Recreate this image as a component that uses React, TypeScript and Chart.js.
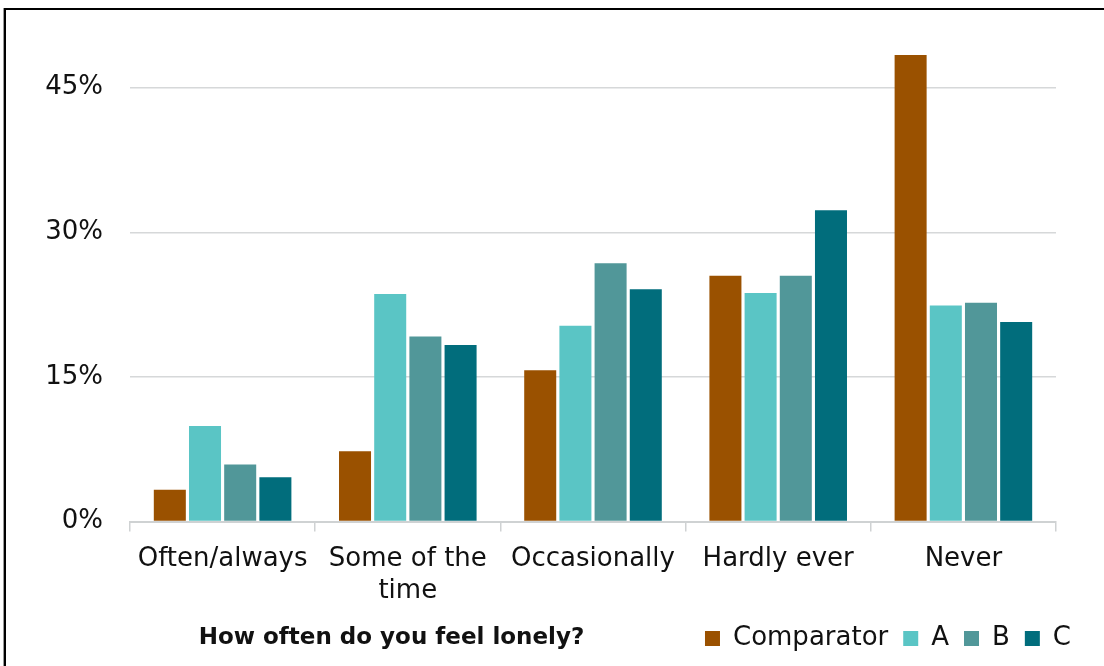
import { useEffect, useRef } from "react";
import { Chart, registerables } from "chart.js";

Chart.register(...registerables);

// Categories (the second one wraps onto two lines)
const categories: (string | string[])[] = [
  "Often/always",
  ["Some of the", "time"],
  "Occasionally",
  "Hardly ever",
  "Never",
];

// Percent of respondents per answer
const comparator = [3.3, 7.3, 15.7, 25.5, 48.4];
const seriesA = [9.9, 23.6, 20.3, 23.7, 22.4];
const seriesB = [5.9, 19.2, 26.8, 25.5, 22.7];
const seriesC = [4.6, 18.3, 24.1, 32.3, 20.7];

const seriesNames = ["Comparator", "A", "B", "C"];
const seriesColors = ["#9a5100", "#5ac5c5", "#519799", "#016d7c"];

const yTicks = [0, 15, 30, 45];
const yMax = 50;
const axisTitle = "How often do you feel lonely?";

const FONT = "'DejaVu Sans', sans-serif";
const FONT_SIZE = 26;
const LEGEND_PAD = 15;
const TEXT = "#111111";

// Draws the bold question text on the same row as the legend
const axisTitleRow = {
  id: "axisTitleRow",
  afterDraw(chart: any) {
    const legend = chart.legend;
    if (!legend) return;
    const ctx = chart.ctx as CanvasRenderingContext2D;
    const y = legend.top + LEGEND_PAD + FONT_SIZE / 2;
    const x = chart.chartArea.left + 261.5;
    ctx.save();
    ctx.font = `bold 23px ${FONT}`;
    ctx.fillStyle = TEXT;
    ctx.textAlign = "center";
    ctx.textBaseline = "middle";
    ctx.fillText(axisTitle, x, y);
    ctx.restore();
  },
};

export default function App() {
  const canvasRef = useRef<HTMLCanvasElement | null>(null);

  useEffect(() => {
    const canvas = canvasRef.current;
    if (!canvas) return;
    const values = [comparator, seriesA, seriesB, seriesC];
    const chart = new Chart(canvas, {
      type: "bar",
      data: {
        labels: categories as any,
        datasets: values.map((data, i) => ({
          label: seriesNames[i],
          data,
          backgroundColor: seriesColors[i],
          borderWidth: 0,
          categoryPercentage: 0.76,
          barPercentage: 0.91,
        })),
      },
      options: {
        responsive: false,
        devicePixelRatio: 1,
        animation: false,
        events: [],
        layout: { padding: { top: 29.5, right: 18, bottom: 4.5, left: 0 } },
        plugins: {
          title: { display: false },
          tooltip: { enabled: false },
          legend: {
            display: true,
            position: "bottom",
            align: "end",
            labels: {
              boxWidth: 15,
              boxHeight: 15,
              padding: LEGEND_PAD,
              color: TEXT,
              font: { family: FONT, size: FONT_SIZE },
            },
          },
        },
        scales: {
          x: {
            grid: {
              offset: true,
              drawOnChartArea: false,
              drawTicks: true,
              tickLength: 10,
              color: "#cfd2d3",
              lineWidth: 1.5,
            },
            border: { display: true, color: "#cfd2d3", width: 2 },
            ticks: {
              color: TEXT,
              padding: 11,
              maxRotation: 0,
              autoSkip: false,
              font: { family: FONT, size: FONT_SIZE, lineHeight: 1.25 },
            },
            afterFit: (s: any) => {
              s.height = 89;
            },
          },
          y: {
            min: 0,
            max: yMax,
            ticks: {
              stepSize: 15,
              padding: 0,
              color: TEXT,
              font: { family: FONT, size: FONT_SIZE },
              callback: (v: any) => `${v}%`,
            },
            afterBuildTicks: (axis: any) => {
              axis.ticks = yTicks.map((value) => ({ value }));
            },
            // invisible tick stubs give the gap between labels and plot
            grid: {
              color: "#d6d8d9",
              lineWidth: 1.5,
              drawTicks: true,
              tickLength: 27,
              tickColor: "rgba(0,0,0,0)",
            },
            border: { display: false },
            afterFit: (s: any) => {
              s.width = 124;
            },
          },
          // empty right-hand axis that keeps space between plot and legend edge
          yRight: {
            position: "right",
            display: true,
            grid: { display: false },
            ticks: { display: false },
            border: { display: false },
            afterFit: (s: any) => {
              s.width = 30;
            },
          },
        },
      },
      plugins: [axisTitleRow],
    });
    return () => chart.destroy();
  }, []);

  return (
    <div
      style={{
        position: "fixed",
        left: 0,
        top: 0,
        width: 1104,
        height: 666,
        overflow: "hidden",
        background: "#ffffff",
      }}
    >
      <div
        style={{
          position: "absolute",
          left: 4,
          top: 8,
          width: 1120,
          height: 680,
          border: "2px solid #000000",
          boxShadow: "-1px 0 0 #9a9a9a",
          background: "#ffffff",
        }}
      >
        <canvas ref={canvasRef} width={1098} height={656} style={{ display: "block" }} />
      </div>
    </div>
  );
}
